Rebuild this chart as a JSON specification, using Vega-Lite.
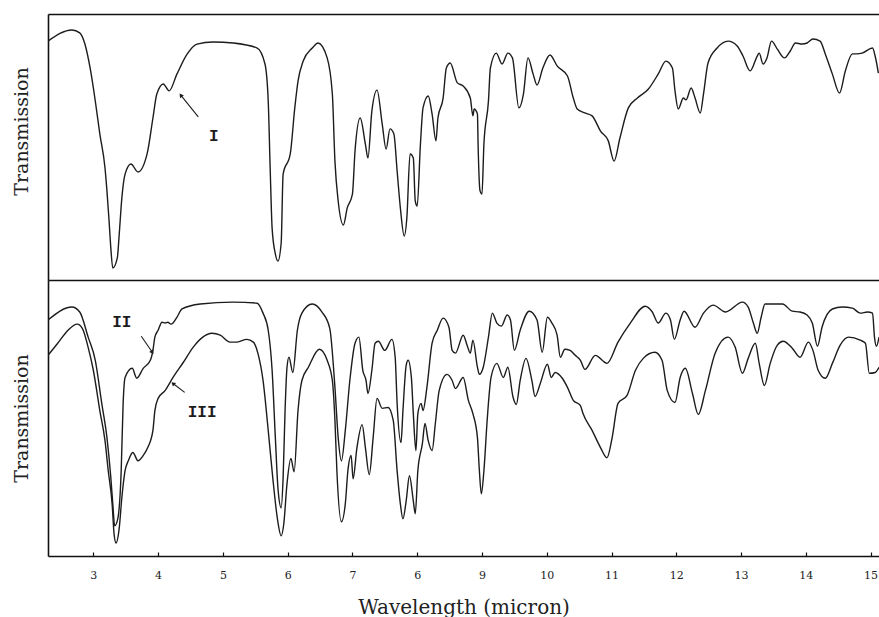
{
  "$schema": "https://vega.github.io/schema/vega-lite/v6.json",
  "autosize": {"type": "pad"},
  "padding": {"left": 11, "top": 13, "right": 0, "bottom": 0},
  "background": "white",
  "spacing": 0,
  "bounds": "flush",
  "config": {
    "view": {"stroke": "transparent"},
    "axis": {
      "domainColor": "#111", "domainWidth": 1.6,
      "gridColor": "#111", "gridWidth": 1.6, "gridOpacity": 1,
      "labelFont": "DejaVu Serif", "titleFont": "DejaVu Serif",
      "labelColor": "#222", "titleColor": "#222",
      "titleFontWeight": "normal", "labelFontSize": 11, "titleFontSize": 19
    }
  },
  "datasets": {
    "spectra": [
      {"series":"I","wavelength":2.30,"transmission":89.8},
      {"series":"I","wavelength":2.67,"transmission":94.0},
      {"series":"I","wavelength":2.79,"transmission":92.9},
      {"series":"I","wavelength":2.87,"transmission":88.7},
      {"series":"I","wavelength":2.95,"transmission":79.7},
      {"series":"I","wavelength":3.03,"transmission":67.3},
      {"series":"I","wavelength":3.10,"transmission":54.9},
      {"series":"I","wavelength":3.18,"transmission":42.1},
      {"series":"I","wavelength":3.21,"transmission":33.5},
      {"series":"I","wavelength":3.24,"transmission":23.3},
      {"series":"I","wavelength":3.27,"transmission":12.0},
      {"series":"I","wavelength":3.30,"transmission":4.5},
      {"series":"I","wavelength":3.37,"transmission":8.3},
      {"series":"I","wavelength":3.40,"transmission":17.3},
      {"series":"I","wavelength":3.44,"transmission":30.8},
      {"series":"I","wavelength":3.49,"transmission":39.8},
      {"series":"I","wavelength":3.58,"transmission":43.6},
      {"series":"I","wavelength":3.69,"transmission":40.6},
      {"series":"I","wavelength":3.83,"transmission":47.4},
      {"series":"I","wavelength":3.92,"transmission":60.9},
      {"series":"I","wavelength":3.98,"transmission":69.9},
      {"series":"I","wavelength":4.08,"transmission":73.7},
      {"series":"I","wavelength":4.17,"transmission":71.1},
      {"series":"I","wavelength":4.29,"transmission":77.4},
      {"series":"I","wavelength":4.45,"transmission":85.0},
      {"series":"I","wavelength":4.60,"transmission":88.7},
      {"series":"I","wavelength":4.85,"transmission":89.5},
      {"series":"I","wavelength":5.16,"transmission":89.1},
      {"series":"I","wavelength":5.53,"transmission":87.2},
      {"series":"I","wavelength":5.65,"transmission":81.2},
      {"series":"I","wavelength":5.70,"transmission":67.3},
      {"series":"I","wavelength":5.73,"transmission":42.1},
      {"series":"I","wavelength":5.76,"transmission":19.5},
      {"series":"I","wavelength":5.81,"transmission":9.8},
      {"series":"I","wavelength":5.85,"transmission":7.1},
      {"series":"I","wavelength":5.90,"transmission":13.9},
      {"series":"I","wavelength":5.93,"transmission":39.8},
      {"series":"I","wavelength":6.04,"transmission":47.4},
      {"series":"I","wavelength":6.11,"transmission":64.7},
      {"series":"I","wavelength":6.16,"transmission":74.8},
      {"series":"I","wavelength":6.24,"transmission":82.3},
      {"series":"I","wavelength":6.38,"transmission":87.2},
      {"series":"I","wavelength":6.47,"transmission":89.1},
      {"series":"I","wavelength":6.61,"transmission":83.5},
      {"series":"I","wavelength":6.69,"transmission":69.9},
      {"series":"I","wavelength":6.73,"transmission":44.7},
      {"series":"I","wavelength":6.78,"transmission":29.7},
      {"series":"I","wavelength":6.86,"transmission":20.7},
      {"series":"I","wavelength":6.92,"transmission":27.1},
      {"series":"I","wavelength":7.00,"transmission":32.3},
      {"series":"I","wavelength":7.04,"transmission":48.5},
      {"series":"I","wavelength":7.12,"transmission":60.9},
      {"series":"I","wavelength":7.20,"transmission":51.1},
      {"series":"I","wavelength":7.24,"transmission":45.9},
      {"series":"I","wavelength":7.30,"transmission":63.5},
      {"series":"I","wavelength":7.38,"transmission":71.4},
      {"series":"I","wavelength":7.46,"transmission":58.6},
      {"series":"I","wavelength":7.52,"transmission":49.2},
      {"series":"I","wavelength":7.58,"transmission":56.8},
      {"series":"I","wavelength":7.64,"transmission":54.9},
      {"series":"I","wavelength":7.69,"transmission":41.0},
      {"series":"I","wavelength":7.74,"transmission":27.1},
      {"series":"I","wavelength":7.80,"transmission":16.5},
      {"series":"I","wavelength":7.84,"transmission":23.3},
      {"series":"I","wavelength":7.89,"transmission":47.4},
      {"series":"I","wavelength":7.94,"transmission":45.9},
      {"series":"I","wavelength":7.97,"transmission":29.7},
      {"series":"I","wavelength":8.00,"transmission":27.8},
      {"series":"I","wavelength":8.05,"transmission":51.1},
      {"series":"I","wavelength":8.09,"transmission":64.7},
      {"series":"I","wavelength":8.17,"transmission":69.2},
      {"series":"I","wavelength":8.23,"transmission":62.4},
      {"series":"I","wavelength":8.29,"transmission":52.3},
      {"series":"I","wavelength":8.32,"transmission":60.9},
      {"series":"I","wavelength":8.40,"transmission":68.4},
      {"series":"I","wavelength":8.45,"transmission":79.7},
      {"series":"I","wavelength":8.51,"transmission":81.6},
      {"series":"I","wavelength":8.62,"transmission":74.1},
      {"series":"I","wavelength":8.71,"transmission":72.9},
      {"series":"I","wavelength":8.82,"transmission":68.4},
      {"series":"I","wavelength":8.86,"transmission":61.7},
      {"series":"I","wavelength":8.88,"transmission":64.3},
      {"series":"I","wavelength":8.93,"transmission":62.4},
      {"series":"I","wavelength":8.94,"transmission":51.1},
      {"series":"I","wavelength":8.97,"transmission":33.5},
      {"series":"I","wavelength":9.00,"transmission":32.3},
      {"series":"I","wavelength":9.03,"transmission":51.1},
      {"series":"I","wavelength":9.10,"transmission":67.3},
      {"series":"I","wavelength":9.13,"transmission":79.7},
      {"series":"I","wavelength":9.22,"transmission":85.3},
      {"series":"I","wavelength":9.31,"transmission":81.2},
      {"series":"I","wavelength":9.40,"transmission":85.3},
      {"series":"I","wavelength":9.47,"transmission":83.5},
      {"series":"I","wavelength":9.57,"transmission":64.7},
      {"series":"I","wavelength":9.64,"transmission":69.9},
      {"series":"I","wavelength":9.71,"transmission":83.5},
      {"series":"I","wavelength":9.79,"transmission":77.4},
      {"series":"I","wavelength":9.85,"transmission":73.3},
      {"series":"I","wavelength":9.94,"transmission":79.7},
      {"series":"I","wavelength":10.05,"transmission":84.6},
      {"series":"I","wavelength":10.16,"transmission":80.5},
      {"series":"I","wavelength":10.32,"transmission":76.7},
      {"series":"I","wavelength":10.41,"transmission":68.4},
      {"series":"I","wavelength":10.47,"transmission":64.3},
      {"series":"I","wavelength":10.59,"transmission":62.8},
      {"series":"I","wavelength":10.70,"transmission":61.7},
      {"series":"I","wavelength":10.83,"transmission":56.0},
      {"series":"I","wavelength":10.95,"transmission":52.3},
      {"series":"I","wavelength":11.04,"transmission":44.7},
      {"series":"I","wavelength":11.13,"transmission":53.4},
      {"series":"I","wavelength":11.26,"transmission":64.7},
      {"series":"I","wavelength":11.40,"transmission":68.4},
      {"series":"I","wavelength":11.57,"transmission":71.8},
      {"series":"I","wavelength":11.72,"transmission":77.4},
      {"series":"I","wavelength":11.84,"transmission":82.3},
      {"series":"I","wavelength":11.94,"transmission":79.7},
      {"series":"I","wavelength":11.98,"transmission":71.1},
      {"series":"I","wavelength":12.03,"transmission":64.3},
      {"series":"I","wavelength":12.11,"transmission":68.4},
      {"series":"I","wavelength":12.15,"transmission":67.7},
      {"series":"I","wavelength":12.23,"transmission":72.2},
      {"series":"I","wavelength":12.29,"transmission":68.4},
      {"series":"I","wavelength":12.37,"transmission":62.8},
      {"series":"I","wavelength":12.42,"transmission":69.9},
      {"series":"I","wavelength":12.49,"transmission":81.6},
      {"series":"I","wavelength":12.63,"transmission":87.2},
      {"series":"I","wavelength":12.80,"transmission":89.8},
      {"series":"I","wavelength":12.94,"transmission":88.0},
      {"series":"I","wavelength":13.03,"transmission":84.2},
      {"series":"I","wavelength":13.14,"transmission":78.6},
      {"series":"I","wavelength":13.25,"transmission":84.2},
      {"series":"I","wavelength":13.28,"transmission":85.3},
      {"series":"I","wavelength":13.34,"transmission":81.2},
      {"series":"I","wavelength":13.40,"transmission":83.5},
      {"series":"I","wavelength":13.47,"transmission":89.8},
      {"series":"I","wavelength":13.56,"transmission":86.8},
      {"series":"I","wavelength":13.67,"transmission":83.5},
      {"series":"I","wavelength":13.76,"transmission":86.1},
      {"series":"I","wavelength":13.84,"transmission":89.1},
      {"series":"I","wavelength":13.94,"transmission":88.7},
      {"series":"I","wavelength":14.02,"transmission":89.1},
      {"series":"I","wavelength":14.11,"transmission":90.6},
      {"series":"I","wavelength":14.22,"transmission":89.8},
      {"series":"I","wavelength":14.30,"transmission":85.0},
      {"series":"I","wavelength":14.41,"transmission":77.4},
      {"series":"I","wavelength":14.52,"transmission":70.3},
      {"series":"I","wavelength":14.61,"transmission":78.6},
      {"series":"I","wavelength":14.72,"transmission":85.0},
      {"series":"I","wavelength":14.79,"transmission":85.0},
      {"series":"I","wavelength":14.87,"transmission":85.3},
      {"series":"I","wavelength":15.03,"transmission":87.2},
      {"series":"I","wavelength":15.07,"transmission":84.2},
      {"series":"I","wavelength":15.12,"transmission":77.8},

      {"series":"II","wavelength":2.30,"transmission":85.5},
      {"series":"II","wavelength":2.67,"transmission":90.2},
      {"series":"II","wavelength":2.79,"transmission":88.4},
      {"series":"II","wavelength":2.92,"transmission":79.3},
      {"series":"II","wavelength":3.03,"transmission":70.9},
      {"series":"II","wavelength":3.13,"transmission":55.3},
      {"series":"II","wavelength":3.21,"transmission":42.9},
      {"series":"II","wavelength":3.27,"transmission":28.4},
      {"series":"II","wavelength":3.30,"transmission":18.9},
      {"series":"II","wavelength":3.33,"transmission":10.9},
      {"series":"II","wavelength":3.38,"transmission":13.8},
      {"series":"II","wavelength":3.43,"transmission":30.9},
      {"series":"II","wavelength":3.46,"transmission":55.3},
      {"series":"II","wavelength":3.49,"transmission":64.7},
      {"series":"II","wavelength":3.60,"transmission":68.0},
      {"series":"II","wavelength":3.67,"transmission":64.4},
      {"series":"II","wavelength":3.77,"transmission":68.0},
      {"series":"II","wavelength":3.88,"transmission":70.9},
      {"series":"II","wavelength":3.92,"transmission":74.5},
      {"series":"II","wavelength":3.95,"transmission":79.3},
      {"series":"II","wavelength":4.00,"transmission":81.8},
      {"series":"II","wavelength":4.06,"transmission":84.7},
      {"series":"II","wavelength":4.11,"transmission":84.4},
      {"series":"II","wavelength":4.15,"transmission":84.7},
      {"series":"II","wavelength":4.20,"transmission":84.0},
      {"series":"II","wavelength":4.23,"transmission":84.4},
      {"series":"II","wavelength":4.29,"transmission":86.5},
      {"series":"II","wavelength":4.37,"transmission":89.5},
      {"series":"II","wavelength":4.65,"transmission":91.3},
      {"series":"II","wavelength":5.16,"transmission":92.0},
      {"series":"II","wavelength":5.53,"transmission":91.6},
      {"series":"II","wavelength":5.62,"transmission":88.0},
      {"series":"II","wavelength":5.70,"transmission":81.8},
      {"series":"II","wavelength":5.76,"transmission":67.3},
      {"series":"II","wavelength":5.81,"transmission":42.9},
      {"series":"II","wavelength":5.85,"transmission":24.7},
      {"series":"II","wavelength":5.90,"transmission":17.5},
      {"series":"II","wavelength":5.93,"transmission":28.4},
      {"series":"II","wavelength":5.96,"transmission":52.7},
      {"series":"II","wavelength":5.99,"transmission":68.4},
      {"series":"II","wavelength":6.02,"transmission":72.0},
      {"series":"II","wavelength":6.08,"transmission":66.5},
      {"series":"II","wavelength":6.15,"transmission":81.8},
      {"series":"II","wavelength":6.22,"transmission":88.0},
      {"series":"II","wavelength":6.38,"transmission":91.3},
      {"series":"II","wavelength":6.53,"transmission":88.4},
      {"series":"II","wavelength":6.65,"transmission":82.5},
      {"series":"II","wavelength":6.73,"transmission":61.1},
      {"series":"II","wavelength":6.78,"transmission":42.9},
      {"series":"II","wavelength":6.83,"transmission":34.5},
      {"series":"II","wavelength":6.89,"transmission":45.5},
      {"series":"II","wavelength":6.96,"transmission":63.6},
      {"series":"II","wavelength":7.04,"transmission":77.1},
      {"series":"II","wavelength":7.10,"transmission":79.3},
      {"series":"II","wavelength":7.16,"transmission":67.3},
      {"series":"II","wavelength":7.21,"transmission":63.6},
      {"series":"II","wavelength":7.24,"transmission":58.9},
      {"series":"II","wavelength":7.30,"transmission":67.3},
      {"series":"II","wavelength":7.35,"transmission":77.1},
      {"series":"II","wavelength":7.40,"transmission":77.8},
      {"series":"II","wavelength":7.50,"transmission":74.5},
      {"series":"II","wavelength":7.61,"transmission":78.5},
      {"series":"II","wavelength":7.66,"transmission":72.0},
      {"series":"II","wavelength":7.69,"transmission":55.3},
      {"series":"II","wavelength":7.75,"transmission":41.1},
      {"series":"II","wavelength":7.78,"transmission":52.7},
      {"series":"II","wavelength":7.83,"transmission":69.1},
      {"series":"II","wavelength":7.86,"transmission":70.9},
      {"series":"II","wavelength":7.91,"transmission":64.7},
      {"series":"II","wavelength":7.94,"transmission":51.6},
      {"series":"II","wavelength":7.98,"transmission":38.2},
      {"series":"II","wavelength":8.01,"transmission":51.6},
      {"series":"II","wavelength":8.06,"transmission":55.3},
      {"series":"II","wavelength":8.09,"transmission":52.7},
      {"series":"II","wavelength":8.15,"transmission":61.1},
      {"series":"II","wavelength":8.23,"transmission":77.1},
      {"series":"II","wavelength":8.31,"transmission":81.8},
      {"series":"II","wavelength":8.40,"transmission":86.2},
      {"series":"II","wavelength":8.49,"transmission":82.9},
      {"series":"II","wavelength":8.54,"transmission":74.5},
      {"series":"II","wavelength":8.59,"transmission":73.5},
      {"series":"II","wavelength":8.71,"transmission":80.0},
      {"series":"II","wavelength":8.77,"transmission":76.4},
      {"series":"II","wavelength":8.82,"transmission":73.5},
      {"series":"II","wavelength":8.86,"transmission":78.2},
      {"series":"II","wavelength":8.93,"transmission":68.4},
      {"series":"II","wavelength":8.96,"transmission":65.8},
      {"series":"II","wavelength":9.02,"transmission":68.4},
      {"series":"II","wavelength":9.10,"transmission":79.3},
      {"series":"II","wavelength":9.16,"transmission":88.0},
      {"series":"II","wavelength":9.23,"transmission":84.4},
      {"series":"II","wavelength":9.30,"transmission":83.3},
      {"series":"II","wavelength":9.39,"transmission":87.3},
      {"series":"II","wavelength":9.44,"transmission":85.5},
      {"series":"II","wavelength":9.50,"transmission":74.5},
      {"series":"II","wavelength":9.59,"transmission":81.8},
      {"series":"II","wavelength":9.73,"transmission":88.7},
      {"series":"II","wavelength":9.85,"transmission":85.5},
      {"series":"II","wavelength":9.93,"transmission":73.8},
      {"series":"II","wavelength":10.01,"transmission":86.5},
      {"series":"II","wavelength":10.08,"transmission":84.4},
      {"series":"II","wavelength":10.16,"transmission":80.0},
      {"series":"II","wavelength":10.21,"transmission":72.0},
      {"series":"II","wavelength":10.28,"transmission":74.9},
      {"series":"II","wavelength":10.36,"transmission":74.5},
      {"series":"II","wavelength":10.44,"transmission":72.7},
      {"series":"II","wavelength":10.52,"transmission":70.9},
      {"series":"II","wavelength":10.59,"transmission":67.6},
      {"series":"II","wavelength":10.75,"transmission":72.7},
      {"series":"II","wavelength":10.93,"transmission":69.8},
      {"series":"II","wavelength":11.10,"transmission":77.5},
      {"series":"II","wavelength":11.29,"transmission":84.4},
      {"series":"II","wavelength":11.52,"transmission":90.5},
      {"series":"II","wavelength":11.63,"transmission":88.4},
      {"series":"II","wavelength":11.72,"transmission":84.4},
      {"series":"II","wavelength":11.84,"transmission":88.0},
      {"series":"II","wavelength":11.91,"transmission":85.5},
      {"series":"II","wavelength":11.97,"transmission":78.5},
      {"series":"II","wavelength":12.06,"transmission":85.5},
      {"series":"II","wavelength":12.12,"transmission":88.7},
      {"series":"II","wavelength":12.29,"transmission":82.9},
      {"series":"II","wavelength":12.42,"transmission":88.0},
      {"series":"II","wavelength":12.57,"transmission":90.9},
      {"series":"II","wavelength":12.76,"transmission":88.4},
      {"series":"II","wavelength":13.02,"transmission":92.0},
      {"series":"II","wavelength":13.11,"transmission":90.2},
      {"series":"II","wavelength":13.19,"transmission":84.4},
      {"series":"II","wavelength":13.25,"transmission":80.7},
      {"series":"II","wavelength":13.31,"transmission":86.5},
      {"series":"II","wavelength":13.37,"transmission":91.3},
      {"series":"II","wavelength":13.64,"transmission":91.3},
      {"series":"II","wavelength":13.79,"transmission":88.7},
      {"series":"II","wavelength":13.91,"transmission":88.4},
      {"series":"II","wavelength":14.02,"transmission":87.3},
      {"series":"II","wavelength":14.10,"transmission":84.4},
      {"series":"II","wavelength":14.18,"transmission":76.0},
      {"series":"II","wavelength":14.25,"transmission":82.9},
      {"series":"II","wavelength":14.41,"transmission":89.5},
      {"series":"II","wavelength":14.56,"transmission":90.2},
      {"series":"II","wavelength":14.72,"transmission":89.8},
      {"series":"II","wavelength":14.84,"transmission":88.0},
      {"series":"II","wavelength":14.95,"transmission":88.4},
      {"series":"II","wavelength":15.03,"transmission":88.0},
      {"series":"II","wavelength":15.06,"transmission":79.3},
      {"series":"II","wavelength":15.09,"transmission":76.0},
      {"series":"II","wavelength":15.13,"transmission":79.3},

      {"series":"III","wavelength":2.30,"transmission":72.7},
      {"series":"III","wavelength":2.45,"transmission":77.1},
      {"series":"III","wavelength":2.61,"transmission":81.8},
      {"series":"III","wavelength":2.75,"transmission":84.0},
      {"series":"III","wavelength":2.83,"transmission":82.5},
      {"series":"III","wavelength":2.92,"transmission":75.6},
      {"series":"III","wavelength":3.00,"transmission":67.3},
      {"series":"III","wavelength":3.10,"transmission":52.7},
      {"series":"III","wavelength":3.18,"transmission":41.8},
      {"series":"III","wavelength":3.23,"transmission":30.9},
      {"series":"III","wavelength":3.29,"transmission":18.9},
      {"series":"III","wavelength":3.32,"transmission":8.0},
      {"series":"III","wavelength":3.35,"transmission":4.7},
      {"series":"III","wavelength":3.40,"transmission":10.2},
      {"series":"III","wavelength":3.44,"transmission":21.1},
      {"series":"III","wavelength":3.49,"transmission":30.9},
      {"series":"III","wavelength":3.54,"transmission":34.5},
      {"series":"III","wavelength":3.61,"transmission":37.5},
      {"series":"III","wavelength":3.69,"transmission":34.5},
      {"series":"III","wavelength":3.77,"transmission":36.4},
      {"series":"III","wavelength":3.84,"transmission":39.3},
      {"series":"III","wavelength":3.92,"transmission":45.5},
      {"series":"III","wavelength":3.95,"transmission":52.7},
      {"series":"III","wavelength":4.00,"transmission":57.1},
      {"series":"III","wavelength":4.11,"transmission":60.0},
      {"series":"III","wavelength":4.23,"transmission":64.7},
      {"series":"III","wavelength":4.39,"transmission":70.2},
      {"series":"III","wavelength":4.54,"transmission":75.6},
      {"series":"III","wavelength":4.69,"transmission":79.3},
      {"series":"III","wavelength":4.83,"transmission":80.7},
      {"series":"III","wavelength":4.96,"transmission":80.0},
      {"series":"III","wavelength":5.11,"transmission":77.5},
      {"series":"III","wavelength":5.22,"transmission":77.5},
      {"series":"III","wavelength":5.37,"transmission":78.5},
      {"series":"III","wavelength":5.47,"transmission":77.5},
      {"series":"III","wavelength":5.54,"transmission":73.5},
      {"series":"III","wavelength":5.62,"transmission":63.6},
      {"series":"III","wavelength":5.70,"transmission":45.5},
      {"series":"III","wavelength":5.77,"transmission":28.4},
      {"series":"III","wavelength":5.84,"transmission":13.8},
      {"series":"III","wavelength":5.90,"transmission":7.3},
      {"series":"III","wavelength":5.94,"transmission":11.6},
      {"series":"III","wavelength":5.99,"transmission":26.2},
      {"series":"III","wavelength":6.05,"transmission":35.3},
      {"series":"III","wavelength":6.10,"transmission":30.5},
      {"series":"III","wavelength":6.16,"transmission":52.7},
      {"series":"III","wavelength":6.22,"transmission":63.6},
      {"series":"III","wavelength":6.32,"transmission":68.4},
      {"series":"III","wavelength":6.49,"transmission":74.9},
      {"series":"III","wavelength":6.61,"transmission":70.9},
      {"series":"III","wavelength":6.69,"transmission":63.6},
      {"series":"III","wavelength":6.73,"transmission":49.1},
      {"series":"III","wavelength":6.76,"transmission":30.9},
      {"series":"III","wavelength":6.83,"transmission":12.4},
      {"series":"III","wavelength":6.89,"transmission":18.9},
      {"series":"III","wavelength":6.93,"transmission":30.9},
      {"series":"III","wavelength":6.98,"transmission":36.4},
      {"series":"III","wavelength":7.01,"transmission":28.0},
      {"series":"III","wavelength":7.07,"transmission":39.3},
      {"series":"III","wavelength":7.15,"transmission":47.6},
      {"series":"III","wavelength":7.20,"transmission":39.3},
      {"series":"III","wavelength":7.26,"transmission":29.5},
      {"series":"III","wavelength":7.32,"transmission":42.9},
      {"series":"III","wavelength":7.38,"transmission":57.1},
      {"series":"III","wavelength":7.46,"transmission":53.5},
      {"series":"III","wavelength":7.55,"transmission":53.8},
      {"series":"III","wavelength":7.63,"transmission":49.1},
      {"series":"III","wavelength":7.69,"transmission":30.9},
      {"series":"III","wavelength":7.74,"transmission":18.9},
      {"series":"III","wavelength":7.78,"transmission":13.5},
      {"series":"III","wavelength":7.83,"transmission":20.0},
      {"series":"III","wavelength":7.88,"transmission":29.1},
      {"series":"III","wavelength":7.94,"transmission":20.0},
      {"series":"III","wavelength":7.97,"transmission":15.3},
      {"series":"III","wavelength":8.01,"transmission":30.9},
      {"series":"III","wavelength":8.08,"transmission":40.7},
      {"series":"III","wavelength":8.12,"transmission":48.0},
      {"series":"III","wavelength":8.17,"transmission":41.8},
      {"series":"III","wavelength":8.23,"transmission":38.2},
      {"series":"III","wavelength":8.28,"transmission":48.0},
      {"series":"III","wavelength":8.34,"transmission":60.0},
      {"series":"III","wavelength":8.46,"transmission":65.8},
      {"series":"III","wavelength":8.54,"transmission":63.6},
      {"series":"III","wavelength":8.59,"transmission":60.7},
      {"series":"III","wavelength":8.71,"transmission":64.7},
      {"series":"III","wavelength":8.79,"transmission":56.4},
      {"series":"III","wavelength":8.86,"transmission":51.6},
      {"series":"III","wavelength":8.93,"transmission":42.9},
      {"series":"III","wavelength":8.96,"transmission":30.9},
      {"series":"III","wavelength":8.99,"transmission":22.5},
      {"series":"III","wavelength":9.03,"transmission":30.9},
      {"series":"III","wavelength":9.08,"transmission":49.1},
      {"series":"III","wavelength":9.14,"transmission":64.7},
      {"series":"III","wavelength":9.23,"transmission":69.8},
      {"series":"III","wavelength":9.33,"transmission":64.7},
      {"series":"III","wavelength":9.40,"transmission":68.4},
      {"series":"III","wavelength":9.48,"transmission":57.5},
      {"series":"III","wavelength":9.53,"transmission":54.9},
      {"series":"III","wavelength":9.59,"transmission":63.6},
      {"series":"III","wavelength":9.68,"transmission":71.6},
      {"series":"III","wavelength":9.77,"transmission":63.6},
      {"series":"III","wavelength":9.82,"transmission":57.8},
      {"series":"III","wavelength":9.90,"transmission":62.5},
      {"series":"III","wavelength":10.01,"transmission":69.5},
      {"series":"III","wavelength":10.07,"transmission":64.7},
      {"series":"III","wavelength":10.13,"transmission":66.5},
      {"series":"III","wavelength":10.24,"transmission":64.4},
      {"series":"III","wavelength":10.32,"transmission":61.1},
      {"series":"III","wavelength":10.41,"transmission":56.4},
      {"series":"III","wavelength":10.52,"transmission":54.5},
      {"series":"III","wavelength":10.56,"transmission":51.6},
      {"series":"III","wavelength":10.70,"transmission":45.5},
      {"series":"III","wavelength":10.83,"transmission":39.3},
      {"series":"III","wavelength":10.93,"transmission":35.6},
      {"series":"III","wavelength":11.01,"transmission":42.9},
      {"series":"III","wavelength":11.10,"transmission":55.3},
      {"series":"III","wavelength":11.24,"transmission":58.2},
      {"series":"III","wavelength":11.37,"transmission":67.3},
      {"series":"III","wavelength":11.49,"transmission":71.6},
      {"series":"III","wavelength":11.67,"transmission":73.8},
      {"series":"III","wavelength":11.78,"transmission":70.9},
      {"series":"III","wavelength":11.86,"transmission":60.0},
      {"series":"III","wavelength":11.98,"transmission":55.6},
      {"series":"III","wavelength":12.06,"transmission":64.7},
      {"series":"III","wavelength":12.14,"transmission":68.0},
      {"series":"III","wavelength":12.25,"transmission":58.9},
      {"series":"III","wavelength":12.34,"transmission":51.3},
      {"series":"III","wavelength":12.45,"transmission":60.0},
      {"series":"III","wavelength":12.60,"transmission":73.5},
      {"series":"III","wavelength":12.80,"transmission":79.3},
      {"series":"III","wavelength":12.91,"transmission":75.6},
      {"series":"III","wavelength":13.02,"transmission":66.2},
      {"series":"III","wavelength":13.11,"transmission":71.6},
      {"series":"III","wavelength":13.22,"transmission":77.1},
      {"series":"III","wavelength":13.28,"transmission":69.8},
      {"series":"III","wavelength":13.36,"transmission":61.8},
      {"series":"III","wavelength":13.45,"transmission":69.8},
      {"series":"III","wavelength":13.56,"transmission":76.4},
      {"series":"III","wavelength":13.65,"transmission":77.8},
      {"series":"III","wavelength":13.79,"transmission":75.3},
      {"series":"III","wavelength":13.91,"transmission":72.0},
      {"series":"III","wavelength":14.04,"transmission":77.5},
      {"series":"III","wavelength":14.11,"transmission":74.5},
      {"series":"III","wavelength":14.19,"transmission":67.3},
      {"series":"III","wavelength":14.30,"transmission":64.4},
      {"series":"III","wavelength":14.41,"transmission":69.8},
      {"series":"III","wavelength":14.53,"transmission":76.4},
      {"series":"III","wavelength":14.66,"transmission":79.3},
      {"series":"III","wavelength":14.84,"transmission":78.2},
      {"series":"III","wavelength":14.92,"transmission":77.1},
      {"series":"III","wavelength":14.98,"transmission":66.2},
      {"series":"III","wavelength":15.07,"transmission":66.5},
      {"series":"III","wavelength":15.13,"transmission":68.4}
    ],
    "notes": [
      {"panel":"top","label":"I","part":"text","wavelength":4.86,"transmission":54.1},
      {"panel":"top","label":"I","part":"tail","wavelength":4.62,"transmission":61.3},
      {"panel":"top","label":"I","part":"tip","wavelength":4.35,"transmission":69.5},
      {"panel":"bottom","label":"II","part":"text","wavelength":3.44,"transmission":84.7},
      {"panel":"bottom","label":"II","part":"tail","wavelength":3.74,"transmission":79.6},
      {"panel":"bottom","label":"II","part":"tip","wavelength":3.91,"transmission":73.8},
      {"panel":"bottom","label":"III","part":"text","wavelength":4.68,"transmission":52.0},
      {"panel":"bottom","label":"III","part":"tail","wavelength":4.41,"transmission":59.3},
      {"panel":"bottom","label":"III","part":"tip","wavelength":4.23,"transmission":62.5}
    ]
  },
  "vconcat": [
    {
      "width": 834,
      "height": 266,
      "encoding": {
        "x": {"field": "wavelength", "type": "quantitative", "scale": {"domain": [2.3, 15.176], "nice": false, "zero": false},
              "axis": {"orient": "top", "labels": false, "ticks": false, "grid": false, "title": null, "domain": true}},
        "y": {"field": "transmission", "type": "quantitative", "scale": {"domain": [0, 100], "nice": false},
              "axis": {"orient": "left", "grid": false, "labels": false, "ticks": false, "domain": true,
                       "title": "Transmission", "titleY": 117, "titleX": -21, "titleBaseline": "alphabetic"}}
      },
      "layer": [
        {
          "data": {"name": "spectra"},
          "transform": [{"filter": "datum.series === 'I'"}],
          "mark": {"type": "line", "stroke": "#1c1c1c", "strokeWidth": 1.4, "clip": true, "interpolate": "monotone"},
          "encoding": {"detail": {"field": "series"}}
        },
        {
          "data": {"name": "notes"},
          "transform": [{"filter": "datum.panel === 'top' && datum.part !== 'text'"}],
          "mark": {"type": "line", "stroke": "#1c1c1c", "strokeWidth": 1.1},
          "encoding": {"detail": {"field": "label"}}
        },
        {
          "data": {"name": "notes"},
          "transform": [{"filter": "datum.label === 'I' && datum.part === 'tip'"}],
          "mark": {"type": "point", "shape": "triangle-up", "filled": true, "size": 22, "angle": 324, "color": "#1c1c1c", "opacity": 1}
        },
        {
          "data": {"name": "notes"},
          "transform": [{"filter": "datum.panel === 'top' && datum.part === 'text'"}],
          "mark": {"type": "text", "font": "Liberation Mono", "fontWeight": "bold", "fontSize": 16, "align": "center", "baseline": "middle", "color": "#1c1c1c"},
          "encoding": {"text": {"field": "label"}}
        }
      ]
    },
    {
      "width": 834,
      "height": 276,
      "encoding": {
        "x": {"field": "wavelength", "type": "quantitative", "scale": {"domain": [2.3, 15.176], "nice": false, "zero": false},
              "axis": {"orient": "bottom", "values": [3,4,5,6,7,8,9,10,11,12,13,14,15],
                       "labelExpr": "datum.value === 8 ? '6' : datum.label",
                       "ticks": true, "tickSize": -4, "tickColor": "#111", "tickWidth": 1.2,
                       "labelPadding": 17, "grid": false, "domain": true,
                       "title": "Wavelength (micron)", "titleFontSize": 20, "titleY": 57, "titleX": 415.5, "titleBaseline": "alphabetic"}},
        "y": {"field": "transmission", "type": "quantitative", "scale": {"domain": [0, 100], "nice": false},
              "axis": {"orient": "left", "values": [100], "grid": true, "labels": false, "ticks": false, "domain": true,
                       "title": "Transmission", "titleX": -21, "titleBaseline": "alphabetic"}}
      },
      "layer": [
        {
          "data": {"name": "spectra"},
          "transform": [{"filter": "datum.series !== 'I'"}],
          "mark": {"type": "line", "stroke": "#1c1c1c", "strokeWidth": 1.4, "clip": true, "interpolate": "monotone"},
          "encoding": {"detail": {"field": "series"}}
        },
        {
          "data": {"name": "notes"},
          "transform": [{"filter": "datum.panel === 'bottom' && datum.part !== 'text'"}],
          "mark": {"type": "line", "stroke": "#1c1c1c", "strokeWidth": 1.1},
          "encoding": {"detail": {"field": "label"}}
        },
        {
          "data": {"name": "notes"},
          "transform": [{"filter": "datum.label === 'II' && datum.part === 'tip'"}],
          "mark": {"type": "point", "shape": "triangle-up", "filled": true, "size": 22, "angle": 145, "color": "#1c1c1c", "opacity": 1}
        },
        {
          "data": {"name": "notes"},
          "transform": [{"filter": "datum.label === 'III' && datum.part === 'tip'"}],
          "mark": {"type": "point", "shape": "triangle-up", "filled": true, "size": 22, "angle": 312, "color": "#1c1c1c", "opacity": 1}
        },
        {
          "data": {"name": "notes"},
          "transform": [{"filter": "datum.panel === 'bottom' && datum.part === 'text'"}],
          "mark": {"type": "text", "font": "Liberation Mono", "fontWeight": "bold", "fontSize": 16, "align": "center", "baseline": "middle", "color": "#1c1c1c"},
          "encoding": {"text": {"field": "label"}}
        }
      ]
    }
  ]
}
